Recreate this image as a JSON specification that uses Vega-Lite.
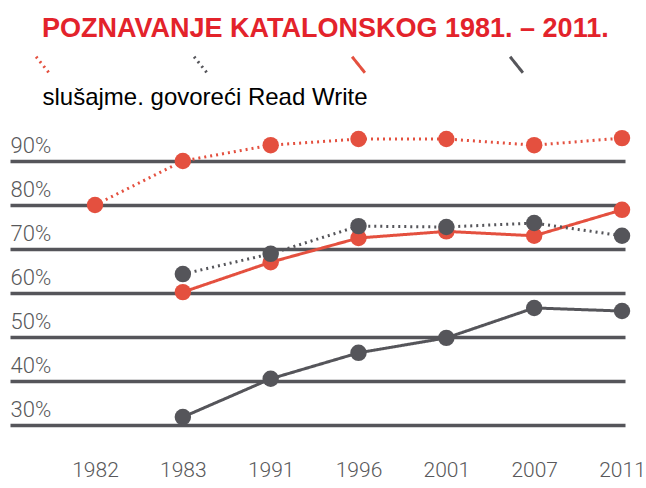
{
  "$schema": "https://vega.github.io/schema/vega-lite/v6.json",
  "width": 615,
  "height": 308,
  "autosize": {"type": "none"},
  "padding": {"left": 10, "top": 117, "right": 21, "bottom": 63},
  "background": "white",
  "config": {"view": {"stroke": null}},
  "title": {
    "text": "POZNAVANJE KATALONSKOG 1981. – 2011.",
    "anchor": "start",
    "dx": 32,
    "offset": 12,
    "font": "Liberation Sans",
    "fontSize": 27,
    "fontWeight": "bold",
    "color": "#e3232b"
  },
  "data": {
    "values": [
      {"year": "1982", "series": "razumije", "value": 80},
      {"year": "1983", "series": "razumije", "value": 90},
      {"year": "1991", "series": "razumije", "value": 93.6},
      {"year": "1996", "series": "razumije", "value": 95},
      {"year": "2001", "series": "razumije", "value": 95},
      {"year": "2007", "series": "razumije", "value": 93.6},
      {"year": "2011", "series": "razumije", "value": 95.2},
      {"year": "1983", "series": "čita", "value": 60.2},
      {"year": "1991", "series": "čita", "value": 67},
      {"year": "1996", "series": "čita", "value": 72.5},
      {"year": "2001", "series": "čita", "value": 74},
      {"year": "2007", "series": "čita", "value": 73},
      {"year": "2011", "series": "čita", "value": 78.9},
      {"year": "1983", "series": "govori", "value": 64.3},
      {"year": "1991", "series": "govori", "value": 68.9},
      {"year": "1996", "series": "govori", "value": 75.2},
      {"year": "2001", "series": "govori", "value": 75},
      {"year": "2007", "series": "govori", "value": 75.9},
      {"year": "2011", "series": "govori", "value": 73},
      {"year": "1983", "series": "piše", "value": 31.8},
      {"year": "1991", "series": "piše", "value": 40.5},
      {"year": "1996", "series": "piše", "value": 46.4},
      {"year": "2001", "series": "piše", "value": 49.8},
      {"year": "2007", "series": "piše", "value": 56.6},
      {"year": "2011", "series": "piše", "value": 55.9}
    ]
  },
  "encoding": {
    "x": {
      "field": "year",
      "type": "ordinal",
      "scale": {"type": "point", "padding": 0.501, "align": 0.966},
      "axis": {
        "title": null,
        "labelAngle": 0,
        "domain": false,
        "ticks": false,
        "grid": false,
        "labelPadding": 34,
        "labelFont": "Roboto",
        "labelFontWeight": 300,
        "labelFontSize": 21,
        "labelColor": "#58585a"
      }
    },
    "y": {
      "field": "value",
      "type": "quantitative",
      "scale": {"domain": [30, 100], "nice": false, "zero": false},
      "axis": {
        "title": "slušajme. govoreći Read Write",
        "titleAngle": 0,
        "titleAlign": "left",
        "titleBaseline": "alphabetic",
        "titleX": 32,
        "titleY": -13,
        "titleFont": "Liberation Sans",
        "titleFontSize": 24,
        "titleFontWeight": "normal",
        "titleColor": "#000000",
        "values": [30, 40, 50, 60, 70, 80, 90],
        "labelExpr": "datum.value + '%'",
        "domain": false,
        "ticks": false,
        "grid": true,
        "gridColor": "#55555a",
        "gridWidth": 3.5,
        "gridOpacity": 1,
        "labelAlign": "left",
        "labelPadding": 0,
        "labelBaseline": "alphabetic",
        "labelOffset": -9,
        "labelFont": "Roboto",
        "labelFontWeight": 300,
        "labelFontSize": 22,
        "labelColor": "#58585a"
      }
    }
  },
  "layer": [
    {
      "mark": {"type": "line", "strokeWidth": 3},
      "encoding": {
        "color": {
          "field": "series",
          "type": "nominal",
          "scale": {
            "domain": ["razumije", "govori", "čita", "piše"],
            "range": ["#e4503f", "#55555a", "#e4503f", "#55555a"]
          },
          "legend": {
            "orient": "none",
            "legendX": 23,
            "legendY": -62,
            "direction": "horizontal",
            "columns": 4,
            "columnPadding": 133,
            "padding": 0,
            "title": null,
            "labelExpr": "''",
            "labelOffset": 0,
            "symbolType": "M-0.8,-1L0.8,1",
            "symbolSize": 256,
            "symbolStrokeWidth": 3
          }
        },
        "strokeDash": {
          "field": "series",
          "type": "nominal",
          "scale": {
            "domain": ["razumije", "govori", "čita", "piše"],
            "range": [[2, 4], [2, 4], [1, 0], [1, 0]]
          },
          "legend": {
            "orient": "none",
            "legendX": 23,
            "legendY": -62,
            "direction": "horizontal",
            "columns": 4,
            "columnPadding": 133,
            "padding": 0,
            "title": null,
            "labelExpr": "''",
            "labelOffset": 0,
            "symbolType": "M-0.8,-1L0.8,1",
            "symbolSize": 256,
            "symbolStrokeWidth": 3
          }
        }
      }
    },
    {
      "mark": {"type": "circle", "size": 270, "opacity": 1},
      "encoding": {
        "fill": {
          "field": "series",
          "type": "nominal",
          "scale": {
            "domain": ["razumije", "govori", "čita", "piše"],
            "range": ["#e4503f", "#55555a", "#e4503f", "#55555a"]
          },
          "legend": null
        }
      }
    }
  ]
}
